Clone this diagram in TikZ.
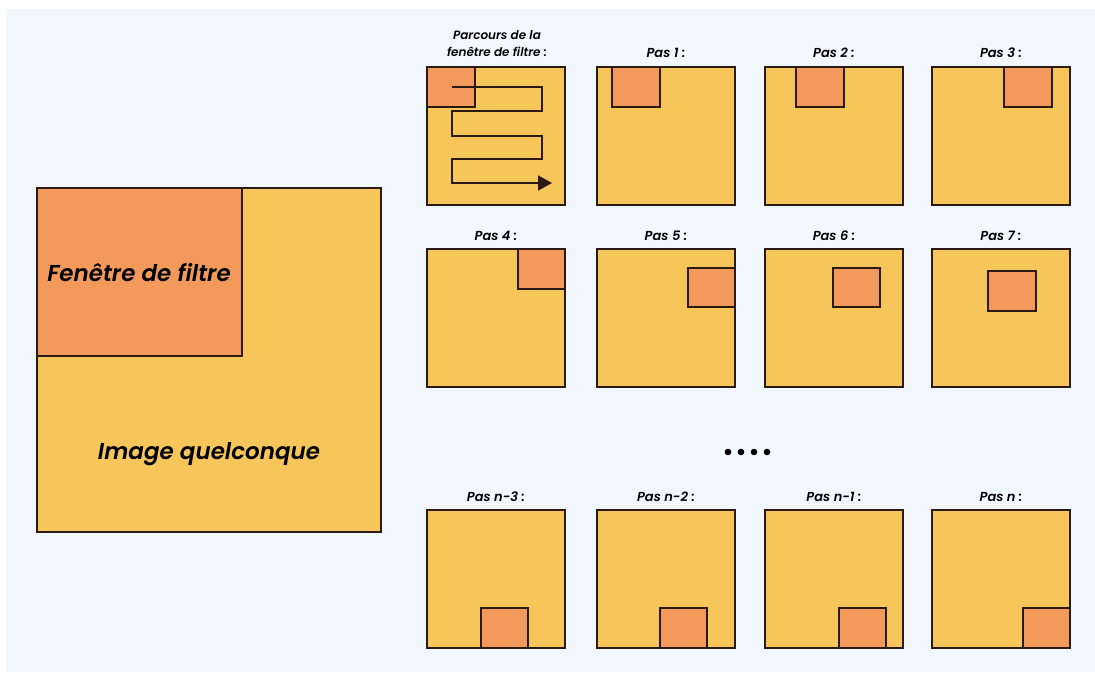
\documentclass[tikz,border=0pt]{standalone}
\usepackage{fontspec}
\setmainfont{Poppins}[BoldItalicFont={Poppins SemiBold Italic}]
\usetikzlibrary{arrows.meta}

\definecolor{pagebg}{HTML}{F2F7FD}
\definecolor{imgyellow}{HTML}{F6C65B}
\definecolor{winorange}{HTML}{F4995C}
\definecolor{ink}{HTML}{2B1A12}

\tikzset{
  panel/.style={draw=ink, fill=imgyellow, line width=2.2pt},
  window/.style={draw=ink, fill=winorange, line width=2.2pt},
  steplabel/.style={font=\fontsize{13}{15}\selectfont\bfseries\itshape, text=black, inner sep=0pt, align=center},
  pathlabel/.style={font=\fontsize{12}{17}\selectfont\bfseries\itshape, text=black, inner sep=0pt, align=center},
  bigtext/.style={font=\fontsize{23}{27}\selectfont\bfseries\itshape, text=black, inner sep=0pt},
  pathline/.style={draw=ink, line width=1.7pt},
}

\begin{document}
\begin{tikzpicture}[x=1pt,y=-1pt]
  \useasboundingbox (0,0) rectangle (1095,672);
  \fill[white] (0,0) rectangle (1095,672);
  \fill[pagebg] (6,9) rectangle (1095,672);

  % large image with its filter window
  \draw[panel] (37,188) rectangle (381,532);
  \draw[window] (37,188) rectangle (242,356);
  \node[bigtext] (fen) at (139,273) {Fenêtre de filtre};
  \node[bigtext] (img) at (209,454) {Image quelconque};

  % row 1: path overview and steps 1 to 3
  \draw[panel] (427,67) rectangle ++(138,138);
  \draw[window] (427,67) rectangle (475,107);
  \coordinate (s0) at (452,87);
  \coordinate (s1) at (542,87);
  \coordinate (s2) at (542,111);
  \coordinate (s3) at (452,111);
  \coordinate (s4) at (452,136);
  \coordinate (s5) at (542,136);
  \coordinate (s6) at (542,159);
  \coordinate (s7) at (452,159);
  \coordinate (s8) at (452,183);
  \coordinate (s9) at (552,183);
  \draw[pathline, -{Triangle[length=14pt,width=15pt]}, line join=miter]
    (s0) -- (s1) -- (s2) -- (s3) -- (s4) -- (s5) -- (s6) -- (s7) -- (s8) -- (s9);
  \node[pathlabel] (l0) at (497,44) {Parcours de la\\fenêtre de filtre :};

  \draw[panel] (597,67) rectangle ++(138,138);
  \draw[window] (612,67) rectangle (660,107);
  \node[steplabel] (l1) at (666,53) {Pas 1 :};

  \draw[panel] (765,67) rectangle ++(138,138);
  \draw[window] (796,67) rectangle (844,107);
  \node[steplabel] (l2) at (834,53) {Pas 2 :};

  \draw[panel] (932,67) rectangle ++(138,138);
  \draw[window] (1004,67) rectangle (1052,107);
  \node[steplabel] (l3) at (1001,53) {Pas 3 :};

  % row 2: steps 4 to 7
  \draw[panel] (427,249) rectangle ++(138,138);
  \draw[window] (518,249) rectangle (565,289);
  \node[steplabel] (l4) at (496,236) {Pas 4 :};

  \draw[panel] (597,249) rectangle ++(138,138);
  \draw[window] (688,268) rectangle (735,307);
  \node[steplabel] (l5) at (666,236) {Pas 5 :};

  \draw[panel] (765,249) rectangle ++(138,138);
  \draw[window] (833,268) rectangle (880,307);
  \node[steplabel] (l6) at (834,236) {Pas 6 :};

  \draw[panel] (932,249) rectangle ++(138,138);
  \draw[window] (988,271) rectangle (1036,311);
  \node[steplabel] (l7) at (1001,236) {Pas 7 :};

  % ellipsis between the rows
  \foreach \dx in {0,13,26,39}
    \fill[black] (728+\dx,452) circle (3.3);

  % row 3: last steps
  \draw[panel] (427,510) rectangle ++(138,138);
  \draw[window] (481,608) rectangle (528,648);
  \node[steplabel] (l8) at (496,497) {Pas n-3 :};

  \draw[panel] (597,510) rectangle ++(138,138);
  \draw[window] (660,608) rectangle (707,648);
  \node[steplabel] (l9) at (666,497) {Pas n-2 :};

  \draw[panel] (765,510) rectangle ++(138,138);
  \draw[window] (839,608) rectangle (886,648);
  \node[steplabel] (l10) at (834,497) {Pas n-1 :};

  \draw[panel] (932,510) rectangle ++(138,138);
  \draw[window] (1023,608) rectangle (1070,648);
  \node[steplabel] (l11) at (1001,497) {Pas n :};
\end{tikzpicture}
\end{document}
